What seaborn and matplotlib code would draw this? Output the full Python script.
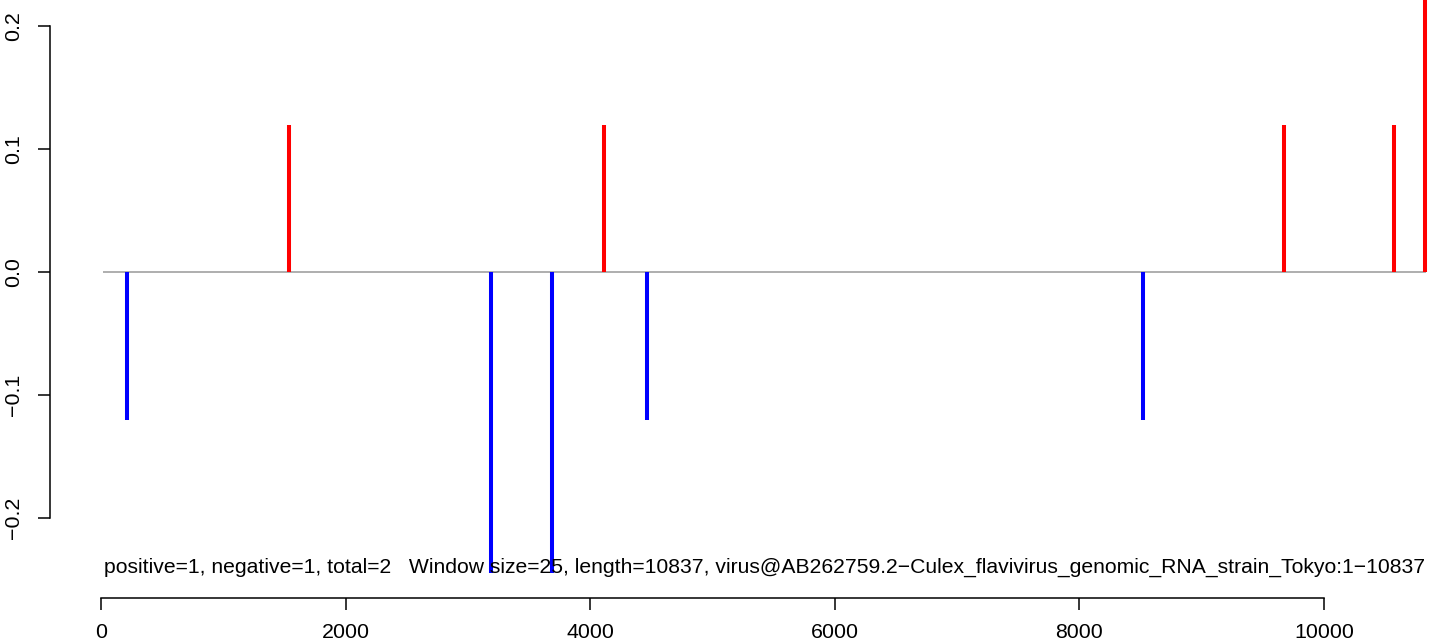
import matplotlib
matplotlib.use("Agg")
import matplotlib.pyplot as plt
import seaborn as sns
import numpy as np

# window positions and scores
pos_x = [1537, 4113, 9673, 10572, 10826]
pos_y = [0.12, 0.12, 0.12, 0.12, 0.24]
neg_x = [213, 3189, 3688, 4464, 8520]
neg_y = [-0.12, -0.25, -0.25, -0.12, -0.12]
seq_len = 10837
x_ticks = [0, 2000, 4000, 6000, 8000, 10000]
y_ticks = [-0.2, -0.1, 0.0, 0.1, 0.2]
info = ("positive=1, negative=1, total=2   Window size=25, length=10837, "
        "virus@AB262759.2\u2212Culex_flavivirus_genomic_RNA_strain_Tokyo:1\u221210837")

sns.set_theme(style="white")
plt.rcParams["font.family"] = ["Liberation Sans", "DejaVu Sans"]
plt.rcParams["text.color"] = "black"
plt.rcParams["xtick.color"] = "black"
plt.rcParams["ytick.color"] = "black"

W, H = 1433, 644
fig = plt.figure(figsize=(W / 100, H / 100), dpi=100)
ax = fig.add_axes([60 / W, (H - 573) / H, (W - 60) / W, 573 / H])

# baseline and score sticks
ax.hlines(0, 13, seq_len, color="#999999", lw=1.1)
ax.vlines(pos_x, 0, pos_y, color="red", lw=2.9, capstyle="butt")
ax.vlines(neg_x, 0, neg_y, color="blue", lw=2.9, capstyle="butt")

ax.set_xlim(-335, 10891)
ax.set_ylim(-0.2447, 0.2215)

sns.despine(ax=ax)
ax.spines["left"].set_position(("outward", 7.2))
ax.spines["bottom"].set_position(("outward", 18))
ax.spines["left"].set_bounds(-0.2, 0.2)
ax.spines["bottom"].set_bounds(0, 10000)
for s in ("left", "bottom"):
    ax.spines[s].set_linewidth(1.1)
    ax.spines[s].set_color("black")

ax.set_xticks(x_ticks)
ax.set_yticks(y_ticks)
ax.set_xticklabels([str(t) for t in x_ticks])
ax.set_yticklabels([f"{t:.1f}".replace("-", "\u2212") for t in y_ticks],
                   rotation=90, va="center")
ax.tick_params(axis="both", direction="out", length=8.6, width=1.1,
               color="black", labelsize=15.4, labelcolor="black",
               left=True, bottom=True)
ax.tick_params(axis="x", pad=9.5)
ax.tick_params(axis="y", pad=10.5)
ax.grid(False)

fig.text(104 / W, 1 - 567 / H, info, fontsize=15.2, color="black",
         ha="left", va="center")

fig.savefig("out.png", dpi=100)
